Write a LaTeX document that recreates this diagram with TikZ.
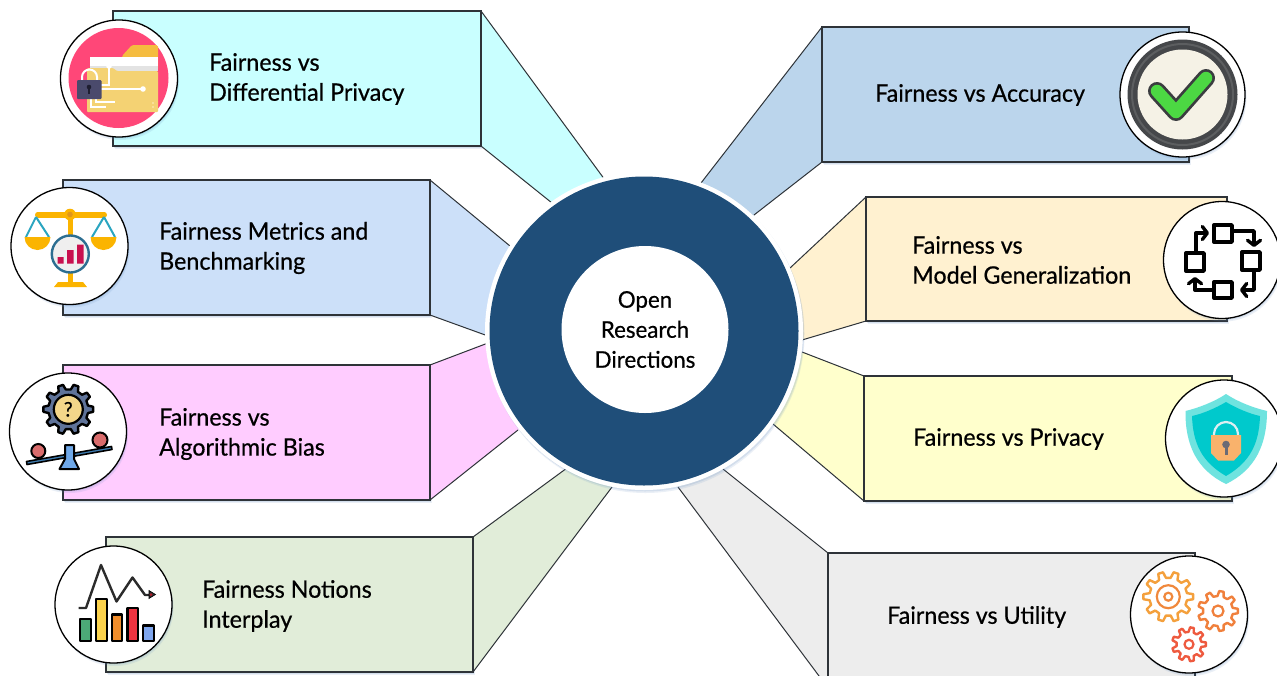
\documentclass[tikz,border=0pt]{standalone}
\usepackage{fontspec}
\setmainfont{Lato}[FakeStretch=0.97,FakeBold=0.55]
\usetikzlibrary{shadows,calc,arrows.meta}
\newcommand{\dc}[2]{\definecolor{#1}{HTML}{#2}}
\dc{c1}{C9FFFF}\dc{c2}{CCE0F9}\dc{c3}{FFCCFF}\dc{c4}{E1EDD9}
\dc{c5}{BBD5EC}\dc{c6}{FFF1D0}\dc{c7}{FFFFCC}\dc{c8}{EDEDED}
\dc{navy}{1F4E79}\dc{edge}{2E3338}\dc{shad}{6C93C4}
\dc{xpink}{FF4778}\dc{xtab}{F5BC3F}\dc{xgrey}{E3E3E3}\dc{xfold}{F4D273}\dc{xlock}{4A4A6C}\dc{xkey}{1E1E30}\dc{xdot}{FBE6A8}
\dc{xamber}{FBB400}\dc{xpiv}{E0951A}\dc{xteal}{2AA5C0}\dc{xlens}{2C6E91}\dc{xlensf}{EFEFEF}\dc{xcrim}{C8104E}
\dc{xgear}{5F7399}\dc{xsand}{F3D68A}\dc{xball}{D96C6C}\dc{xplank}{3E7CB0}\dc{xfulc}{6FA8E8}
\dc{xline}{2B2B2B}\dc{xarrow}{B31B2A}
\dc{xringa}{45474A}\dc{xringb}{5C5E60}\dc{xcream}{F5F2E6}\dc{xchko}{3B3D40}\dc{xchk}{4CD843}
\dc{xshla}{6FE3DF}\dc{xshlb}{00C9CC}\dc{xshack}{DCEFF2}\dc{xpad}{F9B26C}\dc{xhole}{6B6B75}
\dc{xga}{F4A03C}\dc{xgb}{F0883C}\dc{xgc}{F0803C}\dc{xgd}{EE5A3F}
\dc{bA}{4CA977}\dc{bB}{FCD34D}\dc{bC}{F28E2C}\dc{bD}{EF3340}\dc{bE}{7FA6EE}
\tikzset{x=1pt,y=-1pt,
 softshadow/.style={drop shadow={shadow xshift=1.5pt,shadow yshift=-3pt,opacity=.14,fill=shad},
                    drop shadow={shadow xshift=1pt,shadow yshift=-1.5pt,opacity=.18,fill=shad}},
 panelbox/.style={draw=edge,line width=1.1pt,rectangle,inner sep=0pt,outer sep=0pt,softshadow},
 flapline/.style={draw=edge,line width=1pt},
 txtlabel/.style={anchor=west,align=left,font=\fontsize{24}{30}\selectfont,text=black,inner sep=0pt},
 iconcircle/.style={circle,draw=black,line width=1.3pt,fill=white,inner sep=0pt,outer sep=0pt,softshadow},
 sqline/.style={draw=black,line width=3.4pt,line join=round},
 sqarrow/.style={sqline,-{Straight Barb[length=5pt,width=13pt,round]}}}
\newcommand{\panelshape}[9]{% name x1 y1 x2 y2 colour side, circle pt top, circle pt bottom
 \coordinate (#1t) at #8; \coordinate (#1b) at #9;
 \node[panelbox,fill=#6,minimum width={#4-#2},minimum height={#5-#3}] (#1) at ({(#2+#4)/2},{(#3+#5)/2}) {};
 \fill[#6] (#1.north #7) -- (#1t) -- (644,331) -- (#1b) -- (#1.south #7) -- cycle;
 \draw[flapline] (#1.north #7) -- (#1t);
 \draw[flapline] (#1.south #7) -- (#1b);
 \draw[draw=edge,line width=1.1pt] (#1.north west) rectangle (#1.south east);
}
\newcommand{\gearpath}[7]{% cx cy rOut rIn teeth draw-colour fill-colour
 \draw[draw=#6,line width=2.4pt,line join=round,fill=#7]
  ({#1+#4*cos(-0.3*360/#5)},{#2+#4*sin(-0.3*360/#5)})
  \foreach \k in {1,...,#5}{ 
   -- ({#1+#3*cos((\k-1-0.16)*360/#5)},{#2+#3*sin((\k-1-0.16)*360/#5)})
   -- ({#1+#3*cos((\k-1+0.16)*360/#5)},{#2+#3*sin((\k-1+0.16)*360/#5)})
   -- ({#1+#4*cos((\k-1+0.3)*360/#5)},{#2+#4*sin((\k-1+0.3)*360/#5)})
   -- ({#1+#4*cos((\k-0.3)*360/#5)},{#2+#4*sin((\k-0.3)*360/#5)})
  } -- cycle;
}
\begin{document}
\begin{tikzpicture}
\path[use as bounding box,clip] (0,0) rectangle (1277,675);
\fill[white] (0,0) rectangle (1277,675);
% panels
\panelshape{pA}{113}{11}{481}{146}{c1}{east}{(605,180)}{(552,203)}
\panelshape{pB}{63}{180}{430}{315}{c2}{east}{(510,246)}{(488,336)}
\panelshape{pC}{63}{365}{430}{500}{c3}{east}{(488,343)}{(518,430)}
\panelshape{pD}{106}{537}{473}{672}{c4}{east}{(567,468)}{(612,487)}
\panelshape{pE}{822}{27}{1189}{162}{c5}{west}{(701,183)}{(754,215)}
\panelshape{pF}{866}{197}{1227}{321}{c6}{west}{(790,268)}{(802,340)}
\panelshape{pG}{864}{376}{1232}{501}{c7}{west}{(802,352)}{(773,424)}
\panelshape{pH}{828}{553}{1195}{688}{c8}{west}{(723,469)}{(678,487)}
% hub
\node[circle,fill=white,minimum size=318pt,inner sep=0pt,softshadow] (hubring) at (644,331) {};
\node[circle,fill=navy,minimum size=309pt,inner sep=0pt] (hub) at (644,331) {};
\node[circle,fill=white,minimum size=167pt,inner sep=0pt,align=center,font=\fontsize{23}{30}\selectfont] (hubtext) at (645,329.5) {Open\\Research\\Directions};
% labels
\node[txtlabel] (tA) at (209,79) {Fairness vs\\Differential Privacy};
\node[txtlabel] (tB) at (159,248) {Fairness Metrics and\\Benchmarking};
\node[txtlabel] (tC) at (159,434) {Fairness vs\\Algorithmic Bias};
\node[txtlabel] (tD) at (202,606) {Fairness Notions\\Interplay};
\node[txtlabel] (tE) at (875,95) {Fairness vs Accuracy};
\node[txtlabel] (tF) at (912,260) {Fairness vs\\Model Generalization};
\node[txtlabel] (tG) at (913,439) {Fairness vs Privacy};
\node[txtlabel] (tH) at (887,617) {Fairness vs Utility};
% icon circles
\node[iconcircle,minimum size=117pt] (iA) at (119,78.5) {};
\node[iconcircle,minimum size=117pt] (iB) at (69.5,246) {};
\node[iconcircle,minimum size=117pt] (iC) at (68,431.5) {};
\node[iconcircle,minimum size=117pt] (iD) at (113.5,604.5) {};
\node[iconcircle,minimum size=125pt] (iE) at (1182.5,94.5) {};
\node[iconcircle,minimum size=117pt] (iF) at (1222,260) {};
\node[iconcircle,minimum size=117pt] (iG) at (1224,438.5) {};
\node[iconcircle,minimum size=117pt] (iH) at (1189,614.5) {};
% ---- icon A folder
\fill[xpink] (118.5,78) circle (50);
\fill[xtab,rounded corners=1.5pt] (122,56) -- (132,45) -- (158,45) -- (158,70) -- (122,70) -- cycle;
\fill[xgrey] (90,58) rectangle (158,71);
\fill[white] (90,57) rectangle (158,66);
\fill[xfold,rounded corners=1pt] (87,68) -- (113,68) -- (117,71) -- (158,71) -- (158,112) -- (87,112) -- cycle;
\draw[white,line width=1.1pt] (109,66) -- (109,85) -- (100,85);
\fill[white] (109,66) circle (2.8);
\draw[white,line width=1.1pt] (100,89) -- (143,89);
\fill[white] (143,89) circle (2.8);
\draw[white,line width=1.1pt] (91,99) -- (91,107) -- (106,107);
\draw[white,line width=1.1pt] (96,96) -- (96,102) -- (115,102);
\draw[white,line width=2pt] (82,84) -- (82,77) arc[start angle=180,end angle=360,radius=7.5] -- (97,84);
\fill[xlock,rounded corners=1pt] (77,80) rectangle (101.5,99);
\fill[xkey] (89,87) circle (2.3);\fill[xkey] (87.8,87) rectangle (90.2,94);
\fill[xdot] (153,103) circle (1.2) (153,107) circle (1.2);
% ---- icon B scales
\fill[xamber] (68,215) rectangle (72.5,285);
\draw[xamber,line width=6pt,line cap=round] (38,214.5) -- (104,214.5);
\fill[xamber] (70,214.5) circle (5.8);\fill[xpiv] (70,214.5) circle (2.8);
\draw[xteal,line width=2pt] (36,217) -- (26,237) (36,217) -- (49,237) (104,217) -- (92,237) (104,217) -- (115,237);
\fill[xamber] (50.5,237) arc[start angle=0,end angle=180,radius=13] -- cycle;
\fill[xamber] (116.5,237) arc[start angle=0,end angle=180,radius=13] -- cycle;
\fill[xamber] (54,287) -- (58,282) -- (83,282) -- (87,287) -- cycle;
\draw[xlens,line width=2.4pt,fill=xlensf] (70.3,254) circle (18.5);
\fill[xcrim] (57.5,257) rectangle (63.5,263.5) (67,250) rectangle (73.5,263.5) (77,244.5) rectangle (83.5,263.5);
% ---- icon C seesaw
\gearpath{68.3}{409.3}{25}{20}{10}{black}{xgear}
\draw[black,line width=2.2pt,fill=xsand] (68.3,409.3) circle (14.5);
\node[font=\fontsize{20}{20}\selectfont,inner sep=0pt] (qm) at (68.3,409.3) {?};
\draw[line width=2pt,fill=xball] (38.3,451) circle (7);
\draw[line width=2pt,fill=xball] (100,440) circle (7.5);
\draw[line width=1.6pt,line join=round,fill=xplank] (26.5,461.5) -- (111.5,446.5) -- (112,449.5) -- (27,464.5) -- cycle;
\draw[line width=2pt,line join=round,fill=xfulc] (65,445) -- (74,445) -- (74,459) -- (79,469) -- (59.5,469) -- (65,459) -- cycle;
% ---- icon D chart
\draw[xline,line width=2.4pt,line join=round] (78.5,608) -- (86,608) -- (101,565) -- (116.5,601.5) -- (132.5,577.5) -- (145,595) -- (152,595);
\draw[line width=.6pt,fill=xline] (149,590.5) -- (155.5,594.5) -- (149,598.5) -- cycle;
\fill[xarrow] (151,594.5) circle (1.5);
\foreach \xa/\xb/\yt/\col in {80/91/619/bA,96/107/599/bB,112/122/614.5/bC,127.5/138/608/bD,143/154/625.5/bE}{
 \draw[line width=2.6pt,line join=round,fill=\col] (\xa,\yt) rectangle (\xb,641);
}
% ---- icon E check
\fill[xringa] (1182.5,94.5) circle (55);
\draw[xringb,line width=2pt] (1182.5,94.5) circle (50.5);
\fill[xcream] (1182.5,94.5) circle (45);
\draw[xchko,line width=18pt,line cap=round,line join=round] (1157,91) -- (1176,112) -- (1206,78);
\draw[xchk,line width=12.5pt,line cap=round,line join=round] (1157,91) -- (1176,112) -- (1206,78);
% ---- icon F squares
\draw[sqline] (1214,225) rectangle (1232,242);
\draw[sqline] (1242,252) rectangle (1260,270);
\draw[sqline] (1214,282) rectangle (1232,298);
\draw[sqline] (1186,253) rectangle (1204,271);
\draw[sqarrow] (1232,231) -- (1254,231) -- (1254,247);
\draw[sqarrow] (1254,270) -- (1254,290) -- (1240,290);
\draw[sqarrow] (1214,290) -- (1195,290) -- (1195,277);
\draw[sqarrow] (1196,253) -- (1196,233) -- (1209,233);
% ---- icon G shield
\fill[xshla] (1226,394) .. controls (1238,402) and (1254,408) .. (1267,411) .. controls (1267,445) and (1255,470) .. (1226,484) .. controls (1197,470) and (1185,445) .. (1185.5,411) .. controls (1198,408) and (1214,402) .. (1226,394) -- cycle;
\fill[xshlb] (1226,402) .. controls (1236,408) and (1250,414) .. (1260,416) .. controls (1259,444) and (1250,462) .. (1226,476) .. controls (1202,462) and (1193,444) .. (1192,416) .. controls (1202,414) and (1216,408) .. (1226,402) -- cycle;
\draw[xshack,line width=2.2pt] (1214,437) -- (1214,434) arc[start angle=180,end angle=360,radius=12] -- (1238,437);
\fill[xpad] (1211,435) -- (1241,435) -- (1241,453) -- (1234,460.5) -- (1218,460.5) -- (1211,453) -- cycle;
\fill[xhole] (1226,444.5) circle (3.8);\fill[xhole] (1224.5,445) rectangle (1227.5,455);
% ---- icon H gears
\gearpath{1168.3}{596.7}{25}{19}{10}{xga}{white}
\draw[xgb,line width=2.2pt] (1168.3,596.7) circle (11.5);
\draw[xgb,line width=2.2pt] (1168.3,596.7) circle (4);
\gearpath{1218}{611}{20}{15}{9}{xgc}{white}
\draw[xgc,line width=2.2pt] (1218,611) circle (5.5);
\gearpath{1189}{644.3}{17}{12.5}{9}{xgd}{white}
\draw[xgd,line width=2.2pt] (1189,644.3) circle (4.5);
\end{tikzpicture}
\end{document}
